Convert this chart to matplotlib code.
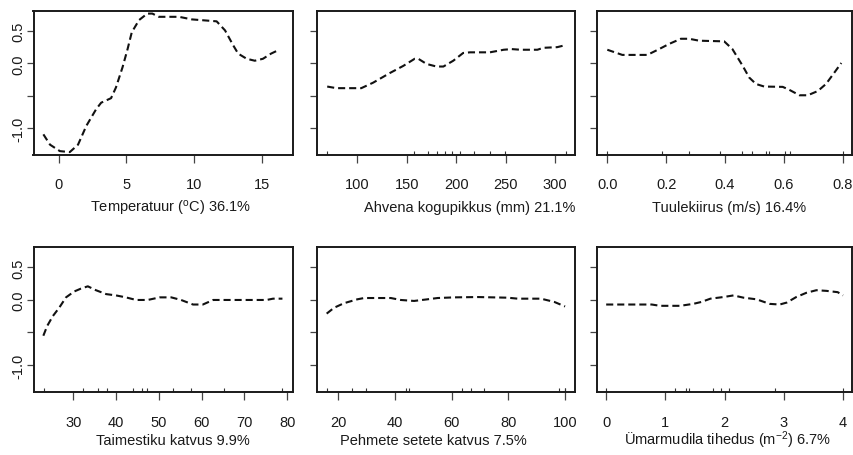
import matplotlib
matplotlib.use('Agg')
import matplotlib.pyplot as plt

plt.rcParams['font.family'] = ['Liberation Sans', 'DejaVu Sans']
plt.rcParams['mathtext.fontset'] = 'custom'
plt.rcParams['mathtext.rm'] = 'Liberation Sans'
plt.rcParams['mathtext.it'] = 'Liberation Sans:italic'
plt.rcParams['mathtext.bf'] = 'Liberation Sans:bold'

# ---------------- data ----------------
temp_x = [-1.12, -0.63, 0.1, 0.83, 1.44, 2.05, 2.78, 3.15, 3.88, 4.24, 4.73, 5.1, 5.41,
          5.95, 6.56, 6.93, 7.41, 8.9, 9.85, 11.68, 12.3, 12.9, 13.27, 13.9, 14.5, 15.1,
          15.7, 16.3]
temp_y = [-1.10, -1.26, -1.36, -1.375, -1.26, -0.97, -0.71, -0.61, -0.54, -0.375, -0.06,
          0.22, 0.48, 0.67, 0.77, 0.77, 0.72, 0.72, 0.68, 0.65, 0.51, 0.28, 0.15, 0.07,
          0.04, 0.07, 0.15, 0.21]
temp_rug = []
temp_ticks = [0, 5, 10, 15]

len_x = [69.6, 79, 104, 116, 133, 146.5, 158, 161.7, 170, 180, 187, 197, 207, 214, 234,
         248, 256, 265, 282, 288, 302, 310]
len_y = [-0.36, -0.385, -0.385, -0.30, -0.15, -0.04, 0.07, 0.07, -0.01, -0.05, -0.05,
         0.04, 0.16, 0.17, 0.17, 0.21, 0.22, 0.21, 0.21, 0.24, 0.25, 0.28]
len_rug = [69.6, 157.8, 171, 180.4, 188.9, 195.6, 204, 217.6, 234.5, 249.7, 310.5]
len_ticks = [100, 150, 200, 250, 300]

wind_x = [0, 0.051, 0.136, 0.176, 0.21, 0.25, 0.278, 0.312, 0.397, 0.425, 0.46, 0.482,
          0.505, 0.533, 0.596, 0.618, 0.653, 0.681, 0.715, 0.743, 0.772, 0.795]
wind_y = [0.21, 0.13, 0.13, 0.22, 0.30, 0.38, 0.38, 0.35, 0.34, 0.22, -0.04, -0.22,
          -0.32, -0.36, -0.365, -0.41, -0.495, -0.495, -0.43, -0.32, -0.14, 0.005]
wind_rug = [0.0, 0.187, 0.276, 0.382, 0.458, 0.49, 0.539, 0.548, 0.602, 0.619, 0.8]
wind_ticks = [0.0, 0.2, 0.4, 0.6, 0.8]
wind_ticklabels = ['0.0', '0.2', '0.4', '0.6', '0.8']

veg_x = [23.0, 23.9, 25.2, 26.7, 28.3, 30.2, 31.8, 33.4, 35.3, 37.7, 40, 42.3, 44.7,
         47.4, 50.2, 52.9, 55.2, 58, 60.3, 62.7, 67.3, 75.2, 76.7, 78.9]
veg_y = [-0.55, -0.40, -0.25, -0.12, 0.04, 0.13, 0.175, 0.21, 0.15, 0.09, 0.07, 0.04,
         0.0, 0.0, 0.04, 0.04, 0.0, -0.07, -0.07, 0.0, 0.0, 0.0, 0.02, 0.02]
veg_rug = [23.2, 32.2, 35.7, 37.8, 43.9, 46.1, 47.2, 53.2, 57.6, 65.2, 78.8]
veg_ticks = [30, 40, 50, 60, 70, 80]

sed_x = [16, 18.6, 22.1, 26.8, 29.2, 38.6, 42.1, 46.8, 51.5, 55.1, 61, 69.2, 79.8, 83.3,
         91.5, 96.2, 100]
sed_y = [-0.21, -0.12, -0.05, 0.01, 0.03, 0.03, 0.0, -0.015, 0.01, 0.03, 0.04, 0.045,
         0.035, 0.02, 0.02, -0.03, -0.10]
sed_rug = [16.2, 25.1, 29.8, 44.1, 45.0, 63.8, 66.8, 71.3, 98.0, 100.0, 100.0]
sed_ticks = [20, 40, 60, 80, 100]

goby_x = [0, 0.77, 0.91, 1.25, 1.47, 1.61, 1.76, 1.98, 2.15, 2.32, 2.54, 2.76, 2.93,
          3.05, 3.21, 3.38, 3.55, 3.72, 3.91, 4.0]
goby_y = [-0.07, -0.07, -0.09, -0.09, -0.06, -0.03, 0.02, 0.045, 0.07, 0.035, 0.01,
          -0.06, -0.07, -0.04, 0.045, 0.11, 0.15, 0.14, 0.12, 0.07]
goby_rug = [0.0, 1.16, 1.34, 1.40, 1.80, 1.94, 2.08, 2.85, 4.0]
goby_ticks = [0, 1, 2, 3, 4]

y_ticks = [-1.0, -0.5, 0.0, 0.5]
y_ticklabels = ['-1.0', '', '0.0', '0.5']

labels = [r'Temperatuur ($^{\mathrm{o}}$C) 36.1%',
          'Ahvena kogupikkus (mm) 21.1%',
          'Tuulekiirus (m/s) 16.4%',
          'Taimestiku katvus 9.9%',
          'Pehmete setete katvus 7.5%',
          r'Ümarmudila tihedus (m$^{\mathrm{-2}}$) 6.7%']

panels = [
    (temp_x, temp_y, temp_rug, temp_ticks, [str(t) for t in temp_ticks]),
    (len_x, len_y, len_rug, len_ticks, [str(t) for t in len_ticks]),
    (wind_x, wind_y, wind_rug, wind_ticks, wind_ticklabels),
    (veg_x, veg_y, veg_rug, veg_ticks, [str(t) for t in veg_ticks]),
    (sed_x, sed_y, sed_rug, sed_ticks, [str(t) for t in sed_ticks]),
    (goby_x, goby_y, goby_rug, goby_ticks, [str(t) for t in goby_ticks]),
]

# ---------------- layout ----------------
W, H = 854, 456
fig = plt.figure(figsize=(W / 100, H / 100), dpi=100)

col_px = [(33.5, 292.7), (317.3, 575.0), (597.3, 852.5)]
row_px = [(12.0, 156.0), (248.3, 393.3)]
label_baseline_px = [212.5, 445.0]
xlims = [(-1.85, 17.3), (59.6, 320.0), (-0.034, 0.833),
         (20.7, 81.3), (12.7, 103.5), (-0.15, 4.16)]
ylim = (-1.42, 0.81)
label_x = [0.53, 0.593, 0.517, 0.538, 0.449, 0.511]

txt = '#1a1a1a'
for i, (xs, ys, rug, xt, xtl) in enumerate(panels):
    r, c = divmod(i, 3)
    l, rgt = col_px[c]
    t, b = row_px[r]
    ax = fig.add_axes([l / W, 1 - b / H, (rgt - l) / W, (b - t) / H])
    ax.plot(xs, ys, color='#111111', lw=1.5, linestyle=(0, (3.4, 1.9)))
    if rug:
        ax.vlines(rug, 0, 0.03, transform=ax.get_xaxis_transform(),
                  color='#333333', lw=0.8)
    ax.set_xlim(*xlims[i])
    ax.set_ylim(*ylim)
    ax.set_xticks(xt)
    ax.set_xticklabels(xtl)
    ax.set_yticks(y_ticks)
    if c == 0:
        ax.set_yticklabels(y_ticklabels, rotation=90, va='center')
    else:
        ax.set_yticklabels([])
    for sp in ax.spines.values():
        sp.set_linewidth(1.4)
        sp.set_color('#1a1a1a')
    ax.tick_params(axis='x', length=5.5, width=0.9, color='#444444', pad=10.5,
                   labelsize=10.5, labelcolor=txt)
    ax.tick_params(axis='y', length=5.0, width=0.9, color='#444444', pad=1.0,
                   labelsize=10.5, labelcolor=txt)
    lx = (l + label_x[i] * (rgt - l)) / W
    ly = 1 - label_baseline_px[r] / H
    fig.text(lx, ly, labels[i], fontsize=10.5, color=txt, ha='center', va='baseline')

fig.savefig('out.png', dpi=100)
